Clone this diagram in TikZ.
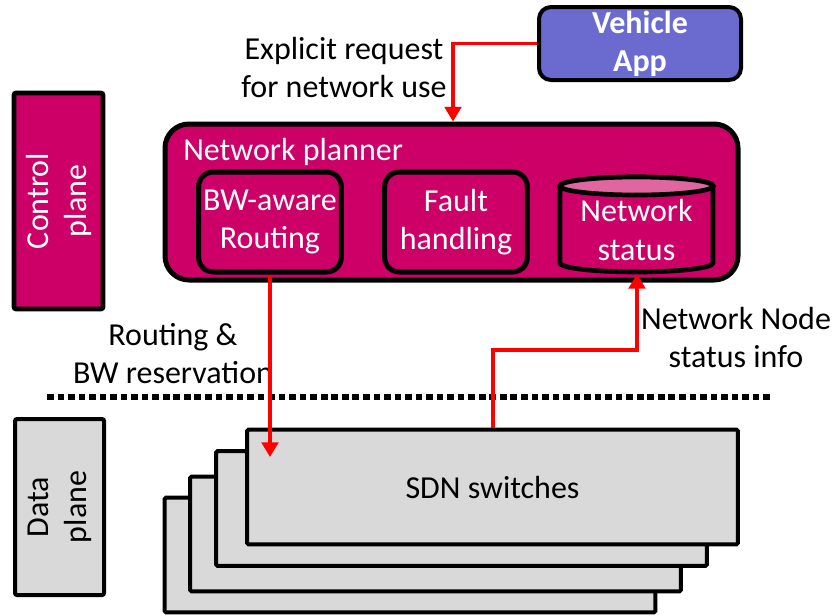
\documentclass[tikz,border=0pt]{standalone}
\usepackage{fontspec}
\setmainfont{Carlito}
\usetikzlibrary{arrows.meta,positioning}
\definecolor{plum}{RGB}{204,0,102}
\definecolor{pinktop}{RGB}{224,102,160}
\definecolor{appblue}{RGB}{107,107,207}
\definecolor{boxgray}{RGB}{217,217,217}
\tikzset{
  txt/.style={font=\fontsize{24}{28.5}\selectfont, align=center},
  planebox/.style={txt, draw=black, line width=3.5pt, rounded corners=1.5pt, rotate=90,
    minimum width=#1, minimum height=66.75pt, inner sep=0pt},
  inbox/.style={txt, text=white, draw=black, line width=3.75pt, rounded corners=11pt,
    minimum width=107pt, minimum height=75pt, inner sep=0pt},
  sdnbox/.style={draw=black, fill=boxgray, line width=3pt, rounded corners=1pt,
    minimum width=368pt, minimum height=86pt},
  link/.style={draw=red, line width=2.4pt, -{Triangle[length=11pt,width=12.5pt]}}
}

\begin{document}
\begin{tikzpicture}[x=0.75pt, y=-0.75pt]
  \useasboundingbox (0,0) rectangle (838,615);

  \node[planebox=162pt, fill=plum, text=white] (ctrl) at (58.5,201) {Control\\plane};
  \node[planebox=132pt, fill=boxgray, line width=3pt] (data) at (59.5,507) {Data\\plane};

  \node[draw=black, line width=3pt, fill=appblue, rounded corners=9pt, minimum width=151.5pt,
    minimum height=54.75pt, inner sep=0pt, align=center, text=white,
    font=\fontsize{24}{28.5}\selectfont\bfseries] (app) at (640,43.5) {Vehicle\\App};

  \node[draw=black, line width=3.75pt, fill=plum, rounded corners=18pt, minimum width=429.75pt,
    minimum height=117pt] (planner) at (451.5,202) {};
  \node[txt, text=white, anchor=base west, inner sep=0pt] (plannerlbl) at (183,160) {Network planner};
  \node[inbox] (routing) at (270,222) {BW-aware\\Routing};
  \node[inbox] (fault) at (456,222) {Fault\\handling};

  \draw[line width=3.5pt, fill=plum] (560,186) -- (560,263)
    arc[start angle=180, end angle=360, x radius=57.375pt, y radius=6.75pt] -- (713,186)
    arc[start angle=0, end angle=180, x radius=57.375pt, y radius=6.75pt] -- cycle;
  \draw[line width=3.5pt, fill=pinktop] (636.5,186) ellipse[x radius=57.375pt, y radius=6.75pt];
  \node[txt, text=white] (status) at (636.5,230) {Network\\status};
  \coordinate (stbot) at (637,274);

  \coordinate (sepL) at (47,397);
  \coordinate (sepR) at (773,397);
  \draw[line width=5pt, dash pattern=on 5pt off 2.9pt] (sepL) -- (sepR);

  \node[sdnbox] (sdn4) at (410,555) {};
  \node[sdnbox] (sdn3) at (435.5,534) {};
  \node[sdnbox] (sdn2) at (461.5,508.5) {};
  \node[sdnbox, txt] (sdn) at (492.5,487) {SDN switches};

  \node[txt] (reqlbl) at (344,68) {Explicit request\\for network use};
  \node[txt] (rtlbl) at (173,354) {Routing \&\\BW reservation};
  \node[txt] (stlbl) at (736,337) {Network Node\\status info};

  \coordinate (reqturn) at (453,43.5);
  \draw[link] (app.west) -- (reqturn) -- (reqturn |- planner.north);
  \coordinate (rtend) at (270,457);
  \draw[link] (routing.south) -- (rtend);
  \coordinate (stx) at (493,350);
  \draw[link] (stx |- sdn.north) -- (stx) -| (stbot);
\end{tikzpicture}
\end{document}
